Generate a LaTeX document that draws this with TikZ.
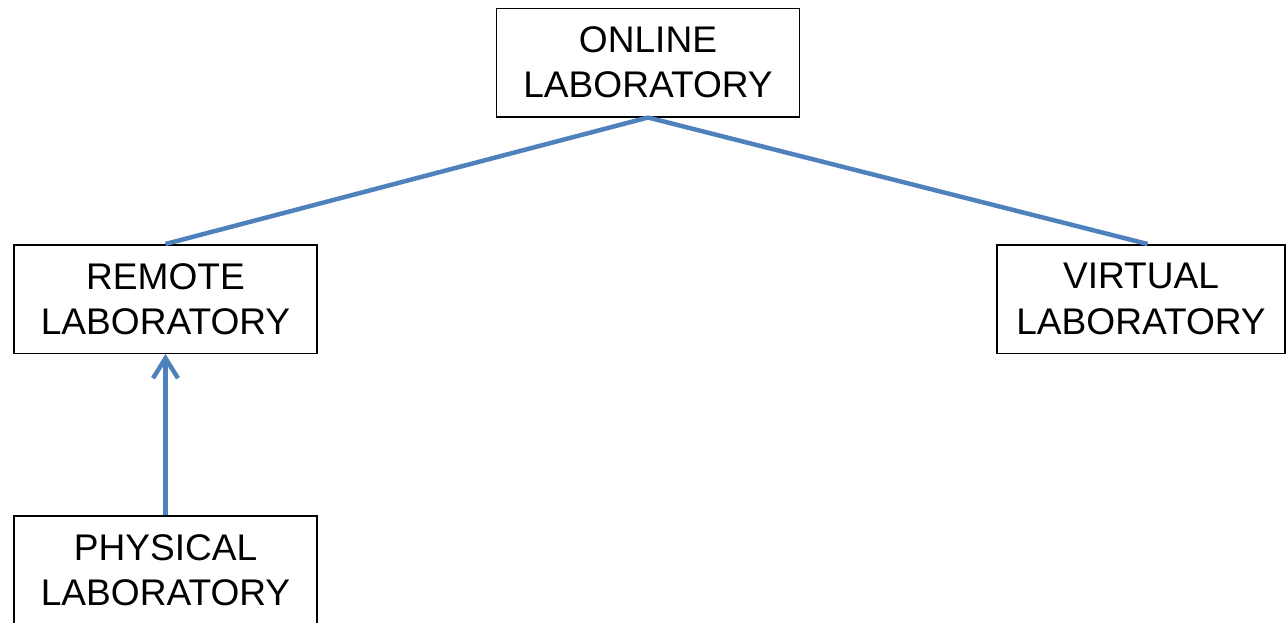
\documentclass[tikz,border=0pt]{standalone}
\usepackage{fontspec}
\setmainfont{Liberation Sans}
\usetikzlibrary{arrows.meta,positioning}

\definecolor{linkblue}{RGB}{79,129,189}

\begin{document}
\begin{tikzpicture}[
        labbox/.style={draw, line width=0.03cm, align=center, inner sep=0pt, minimum width=6.06cm, minimum height=2.17cm, font=\fontsize{21.1}{25.8}\selectfont},
        link/.style={draw=linkblue, line width=0.09cm}
    ]
        \useasboundingbox (0,0) rectangle (25.72,-12.44);

        \node[labbox] (online) at (12.96,-1.25) {ONLINE\\LABORATORY};
        \node[labbox] (remote) at (3.31,-5.98) {REMOTE\\LABORATORY};
        \node[labbox, minimum width=5.76cm] (virtual) at (22.82,-5.98) {VIRTUAL\\LABORATORY};
        \node[labbox] (physical) at (3.31,-11.40) {PHYSICAL\\LABORATORY};

        % the two kinds of online lab hang from the top box
        \draw[link] (online.south)--(remote.north);                         % online -> remote
        \draw[link] (online.south)--([xshift=0.13cm]virtual.north);         % online -> virtual
        \draw[link, -{Straight Barb[length=0.4cm, width=0.5cm]}] (physical.north)--(remote.south);   % physical lab feeds the remote lab
    \end{tikzpicture}
\end{document}
